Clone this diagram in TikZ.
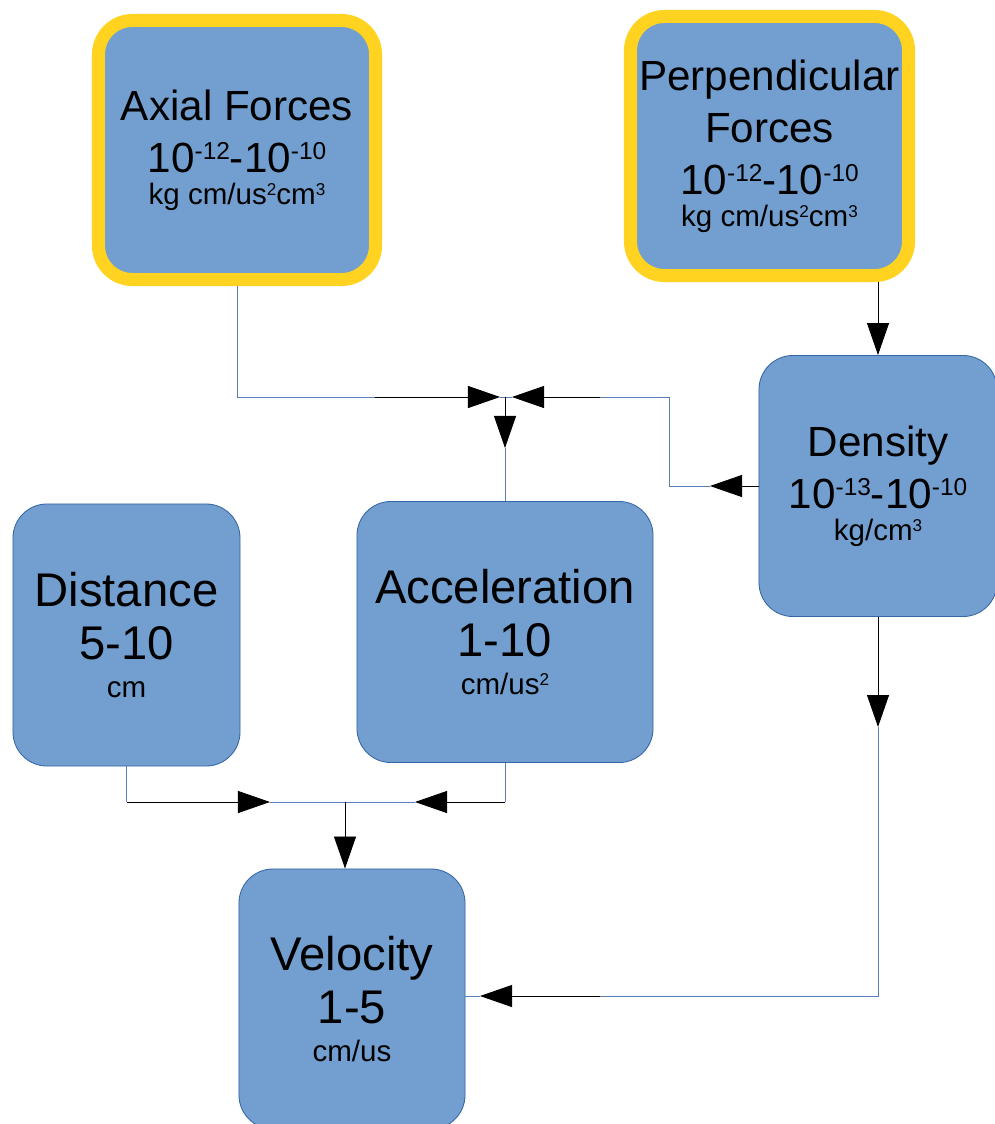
\documentclass[tikz,border=0pt]{standalone}
\usepackage{fontspec}
\setmainfont{Liberation Sans}
\usetikzlibrary{arrows.meta,positioning}
\definecolor{boxfill}{HTML}{729FCF}
\definecolor{boxedge}{HTML}{3465A4}
\definecolor{forceyellow}{HTML}{FFD320}
\definecolor{linkblue}{HTML}{5A7FB8}
\newcommand{\smallnamefont}{\fontsize{30}{37}\selectfont}
\newcommand{\bignamefont}{\fontsize{33.6}{37.6}\selectfont}
\newcommand{\unitsfont}{\fontsize{21}{24}\selectfont}
\newcommand{\upidx}[1]{\raisebox{0.3em}{\scalebox{0.58}{#1}}}

\begin{document}
\begin{tikzpicture}[x=0.025cm, y=-0.025cm, >=Triangle,
    qty/.style={draw=boxedge, fill=boxfill, line width=0.6pt, rounded corners=0.85cm, align=center, inner sep=0pt, font=\bignamefont},
    force/.style={qty, draw=forceyellow, line width=0.325cm, font=\smallnamefont},
    link/.style={draw=linkblue, line width=0.6pt},
    tip/.style={draw=black, line width=0.6pt, -{Triangle[length=0.8cm, width=0.55cm]}}]
    \useasboundingbox (0,0) rectangle (994,1124);

    % quantities
    \node[force, minimum width=6.925cm, minimum height=6.475cm] (axial) at (237,150) {Axial Forces\\10\upidx{-12}-10\upidx{-10}\\[-14.5pt]\unitsfont kg cm/us\upidx{2}cm\upidx{3}};
    \node[force, minimum width=6.95cm, minimum height=6.475cm] (perp) at (769.5,146) {Perpendicular\\Forces\\10\upidx{-12}-10\upidx{-10}\\[-14.5pt]\unitsfont kg cm/us\upidx{2}cm\upidx{3}};
    \node[qty, font=\smallnamefont, minimum width=5.95cm, minimum height=6.525cm] (density) at (878,486) {Density\\10\upidx{-13}-10\upidx{-10}\\[-14.5pt]\unitsfont kg/cm\upidx{3}};
    \node[qty, minimum width=5.675cm, minimum height=6.55cm] (distance) at (126.5,635) {Distance\\5-10\\[-10pt]\unitsfont cm};
    \node[qty, minimum width=7.4cm, minimum height=6.525cm] (acc) at (505,632) {Acceleration\\1-10\\[-10pt]\unitsfont cm/us\upidx{2}};
    \node[qty, minimum width=5.65cm, minimum height=6.5cm] (velocity) at (352,999) {Velocity\\1-5\\[-10pt]\unitsfont cm/us};

    % junctions and arrow points
    \coordinate (jtop) at (505,397);
    \coordinate (jlow) at (345,802);
    \coordinate (axtail) at (375,397);
    \coordinate (axtip) at (500,397);
    \coordinate (dntip) at (710,486);
    \coordinate (dntail) at (600,397);
    \coordinate (dntop) at (512,397);
    \coordinate (actip) at (505,448);
    \coordinate (dvtip) at (878,727);
    \coordinate (dvtail) at (600,996);
    \coordinate (vetip) at (480,996);
    \coordinate (ditip) at (270,802);
    \coordinate (aclow) at (415,802);

    % forces and density to acceleration
    \draw[link] (axial.south) |- (axtail);
    \draw[tip] (axtail) -- (axtip);
    \draw[link] (axtip) -- (jtop);
    \draw[tip] (density.west) -- (dntip);
    \draw[link] (dntip) -- ++(-41,0) |- (dntail);
    \draw[tip] (dntail) -- (dntop);
    \draw[link] (dntop) -- (jtop);
    \draw[tip] (jtop) -- (actip);
    \draw[link] (actip) -- (acc.north);
    \draw[tip] (perp.south -| density.north) -- (density.north);

    % to velocity
    \draw[tip] (density.south) -- (dvtip);
    \draw[link] (dvtip) |- (dvtail);
    \draw[tip] (dvtail) -- (vetip);
    \draw[link] (vetip) -- (vetip -| velocity.east);
    \draw[link] (distance.south) -- (distance.south |- jlow);
    \draw[tip] (distance.south |- jlow) -- (ditip);
    \draw[link] (ditip) -- (jlow);
    \draw[link] (acc.south) -- (acc.south |- jlow);
    \draw[tip] (acc.south |- jlow) -- (aclow);
    \draw[link] (aclow) -- (jlow);
    \draw[tip] (jlow) -- (jlow |- velocity.north);
\end{tikzpicture}
\end{document}
